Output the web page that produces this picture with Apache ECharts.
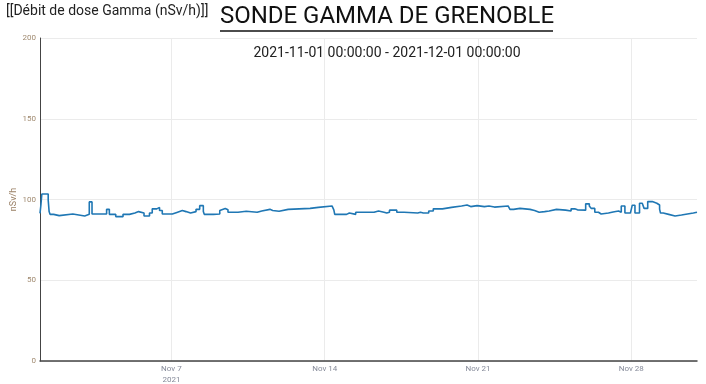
<!DOCTYPE html>
<html><head><meta charset="utf-8">
<script src="https://cdn.jsdelivr.net/npm/echarts@6/dist/echarts.min.js"></script>
<style>html,body{margin:0;padding:0;background:#fff}#c{width:706px;height:384px}</style>
</head><body><div id="c"></div>
<script>
const times = [
'2021-11-01 00:00','2021-11-01 01:00','2021-11-01 02:00','2021-11-01 09:00','2021-11-01 10:00','2021-11-01 11:00','2021-11-01 15:00','2021-11-01 21:00',
'2021-11-02 12:00','2021-11-03 01:00','2021-11-03 06:00','2021-11-03 09:00','2021-11-04 01:00','2021-11-04 04:00','2021-11-04 11:00','2021-11-04 19:00',
'2021-11-05 02:00','2021-11-05 08:00','2021-11-05 12:00','2021-11-05 18:00','2021-11-06 00:00','2021-11-06 03:00','2021-11-06 08:00','2021-11-06 11:00',
'2021-11-06 14:00','2021-11-07 01:00','2021-11-07 06:00','2021-11-07 12:00','2021-11-07 16:00','2021-11-07 21:00','2021-11-08 03:00','2021-11-08 07:00',
'2021-11-08 11:00','2021-11-08 12:00','2021-11-08 22:00','2021-11-09 00:00','2021-11-09 05:00','2021-11-09 07:00','2021-11-09 11:00','2021-11-09 14:00',
'2021-11-10 01:00','2021-11-10 10:00','2021-11-10 22:00','2021-11-11 03:00','2021-11-11 12:00','2021-11-11 15:00','2021-11-11 22:00','2021-11-12 08:00',
'2021-11-13 08:00','2021-11-13 17:00','2021-11-13 19:00','2021-11-14 08:00','2021-11-14 10:00','2021-11-14 11:00','2021-11-15 00:00','2021-11-15 03:00',
'2021-11-15 10:00','2021-11-16 06:00','2021-11-16 11:00','2021-11-16 17:00','2021-11-16 20:00','2021-11-16 23:00','2021-11-17 07:00','2021-11-17 15:00',
'2021-11-18 06:00','2021-11-18 09:00','2021-11-18 12:00','2021-11-18 14:00','2021-11-18 18:00','2021-11-18 23:00','2021-11-19 09:00','2021-11-19 19:00',
'2021-11-20 06:00','2021-11-20 12:00','2021-11-20 16:00','2021-11-20 23:00','2021-11-21 07:00','2021-11-21 12:00','2021-11-21 18:00','2021-11-22 09:00',
'2021-11-22 11:00','2021-11-22 15:00','2021-11-22 22:00','2021-11-23 09:00','2021-11-23 14:00','2021-11-23 19:00','2021-11-24 01:00','2021-11-24 06:00',
'2021-11-24 14:00','2021-11-25 00:00','2021-11-25 06:00','2021-11-25 10:00','2021-11-25 13:00','2021-11-25 22:00','2021-11-26 02:00','2021-11-26 04:00',
'2021-11-26 08:00','2021-11-26 12:00','2021-11-26 15:00','2021-11-26 23:00','2021-11-27 04:00','2021-11-27 10:00','2021-11-27 13:00','2021-11-27 17:00',
'2021-11-27 23:00','2021-11-28 01:00','2021-11-28 04:00','2021-11-28 09:00','2021-11-28 12:00','2021-11-28 14:00','2021-11-28 18:00','2021-11-28 23:00',
'2021-11-29 04:00','2021-11-29 07:00','2021-11-29 08:00','2021-11-29 11:00','2021-11-29 17:00','2021-11-30 00:00','2021-11-30 07:00','2021-11-30 20:00',
'2021-12-01 00:00'
];
const doses = [
91.4,96.6,103.4,99.5,92.5,90.8,90.0,91.0,
89.8,90.8,98.5,91.0,93.9,90.8,89.4,90.8,
91.6,92.5,91.6,89.8,91.6,94.2,95.1,93.2,
91.0,92.0,93.2,92.5,91.6,92.5,93.9,96.2,
92.5,90.8,90.2,91.0,93.2,94.4,93.6,92.1,
92.7,92.1,92.9,93.9,93.2,92.7,93.9,94.5,
95.1,94.5,96.0,95.1,93.6,90.8,91.6,90.8,
92.1,92.9,92.1,91.6,92.1,93.4,92.1,91.6,
92.1,91.6,90.8,91.6,92.9,94.2,95.1,96.0,
96.6,95.6,96.2,95.6,96.0,95.3,96.0,95.1,
93.9,94.5,93.9,93.2,92.1,92.5,92.9,93.9,
93.4,92.9,94.2,93.6,93.4,97.3,96.0,94.5,
92.1,91.0,91.6,92.3,92.9,92.1,96.0,91.6,
91.0,96.4,91.6,97.7,96.6,94.5,98.7,97.7,
96.6,94.0,91.6,90.8,89.8,90.4,91.6,92.1,
92.1
];
const xRange = ['2021-11-01 00:00', '2021-12-01 00:00'];
const xTickDates = ['2021-11-07 00:00', '2021-11-14 00:00', '2021-11-21 00:00', '2021-11-28 00:00'];
const xTickLabels = ['Nov 7\n2021', 'Nov 14', 'Nov 21', 'Nov 28'];
const yMin = 0, yMax = 200, yStep = 50;
const headerText = '[[Débit de dose Gamma (nSv/h)]]';
const titleText = 'SONDE GAMMA DE GRENOBLE';
const subtitleText = '2021-11-01 00:00:00 - 2021-12-01 00:00:00';
const yName = 'nSv/h';

const ts = s => new Date(s.replace(' ', 'T')).getTime();
const seriesData = times.map((t, i) => [ts(t), doses[i]]);
const tickVals = xTickDates.map(ts);

const chart = echarts.init(document.getElementById('c'), null, {renderer: 'canvas'});
chart.setOption({
  animation: false,
  backgroundColor: '#fff',
  textStyle: {fontFamily: 'Roboto'},
  title: [
    {text: headerText, left: 6, top: 4, padding: 0, textStyle: {fontFamily: 'Roboto', fontSize: 14, fontWeight: 'normal', color: '#222'}},
    {text: titleText, left: 387, top: 5, padding: 0, textAlign: 'center', textStyle: {fontFamily: 'Roboto', fontSize: 24, fontWeight: 'normal', color: '#111'}},
    {text: subtitleText, left: 387, top: 46, padding: 0, textAlign: 'center', textStyle: {fontFamily: 'Roboto', fontSize: 14, fontWeight: 'normal', color: '#222'}}
  ],
  graphic: [
    {type: 'line', shape: {x1: 220, y1: 31, x2: 553, y2: 31}, style: {stroke: '#111', lineWidth: 1.5}}
  ],
  grid: {left: 40, right: 9, top: 38, bottom: 23, containLabel: false, outerBoundsMode: 'none'},
  xAxis: {
    type: 'value', min: ts(xRange[0]), max: ts(xRange[1]),
    axisLine: {show: true, lineStyle: {color: '#444', width: 1.5}},
    axisTick: {show: false, customValues: tickVals},
    axisLabel: {customValues: tickVals, color: '#858a99', fontSize: 8, margin: 2, lineHeight: 11, fontFamily: 'Roboto',
      formatter: v => { const i = tickVals.indexOf(v); return i >= 0 ? xTickLabels[i] : ''; }},
    splitLine: {show: true, lineStyle: {color: '#ebebeb', width: 1}}
  },
  yAxis: {
    type: 'value', min: yMin, max: yMax, interval: yStep,
    name: yName, nameLocation: 'middle', nameGap: 22, nameRotate: 90, nameMoveOverlap: false,
    nameTextStyle: {color: '#9a8066', fontSize: 9, fontFamily: 'Roboto'},
    axisLine: {show: true, lineStyle: {color: '#444', width: 1}},
    axisTick: {show: false},
    axisLabel: {color: '#a08a70', fontSize: 8, margin: 4, fontFamily: 'Roboto'},
    splitLine: {show: true, lineStyle: {color: '#ebebeb', width: 1}}
  },
  series: [{
    type: 'line', data: seriesData, step: 'end', showSymbol: false,
    lineStyle: {color: '#1f77b4', width: 1.6}
  }]
});
</script></body></html>
